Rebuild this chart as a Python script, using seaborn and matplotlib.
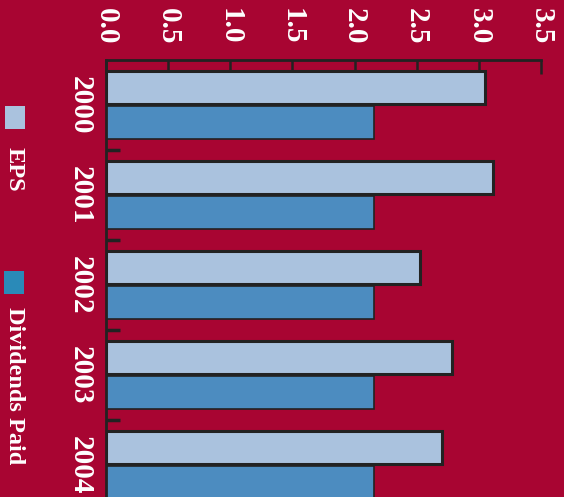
import matplotlib
matplotlib.use("Agg")
import matplotlib.pyplot as plt
import seaborn as sns
import pandas as pd
from matplotlib.patches import Rectangle

years = ["2000", "2001", "2002", "2003", "2004"]
eps = [3.05, 3.11, 2.53, 2.78, 2.70]
dividends = [2.16, 2.16, 2.16, 2.16, 2.16]
series_names = ["EPS", "Dividends Paid"]
xticks = [0.0, 0.5, 1.0, 1.5, 2.0, 2.5, 3.0, 3.5]

BG = "#A80532"
C_EPS = "#AAC2DE"
C_DIV = "#4C8CC0"
C_DIV_LEG = "#2A8AB8"
EDGE = "#222222"

sns.set_style("white")
plt.rcParams["font.family"] = ["Liberation Serif", "DejaVu Serif"]
plt.rcParams["font.weight"] = "bold"

df = pd.DataFrame({
    "year": years * 2,
    "value": eps + dividends,
    "series": [series_names[0]] * len(years) + [series_names[1]] * len(years),
})

W, H = 564, 497
fig = plt.figure(figsize=(W / 100, H / 100), dpi=100, facecolor=BG)
left, right, top, bottom = 106, 541, 60, 510
ax = fig.add_axes([left / W, (H - bottom) / H, (right - left) / W, (bottom - top) / H])
ax.set_facecolor(BG)

sns.barplot(data=df, y="year", x="value", hue="series", orient="h",
            palette=[C_EPS, C_DIV], saturation=1, width=0.78, gap=0.08,
            edgecolor=EDGE, linewidth=1.5, legend=False, ax=ax)

for p in ax.patches:
    fc = p.get_facecolor()
    if abs(fc[0] - 0xAA / 255) < 0.02:
        p.set_linewidth(2.2)
    else:
        p.set_linewidth(1.2)

ax.set_xlim(0, 3.5)
ax.set_ylim(len(years) - 0.5, -0.5)
ax.set_xticks(xticks)
ax.set_xticklabels([f"{v:.1f}" for v in xticks])
ax.xaxis.set_ticks_position("top")
ax.xaxis.set_label_position("top")
ax.tick_params(axis="x", which="major", direction="in", length=10, width=1.8,
               color=EDGE, pad=11, labelsize=21, labelcolor="white",
               labelrotation=-90, top=True, bottom=False)
for t in ax.get_xticklabels():
    t.set_fontweight("bold")

ax.set_yticks(range(len(years)))
ax.set_yticklabels(years)
ax.set_yticks([i + 0.5 for i in range(len(years) - 1)], minor=True)
ax.tick_params(axis="y", which="major", length=0, pad=9, labelsize=21,
               labelcolor="white", labelrotation=-90)
ax.tick_params(axis="y", which="minor", direction="in", length=10, width=2.5,
               color=EDGE, left=True)
for t in ax.get_yticklabels():
    t.set_fontweight("bold")
    t.set_va("center")

ax.set_xlabel("")
ax.set_ylabel("")
for s in ["right", "bottom"]:
    ax.spines[s].set_visible(False)
for s in ["top", "left"]:
    ax.spines[s].set_color(EDGE)
    ax.spines[s].set_linewidth(2)

# legend (rotated)
fig.patches.append(Rectangle((5 / W, 1 - 129 / H), 20 / W, 23 / H,
                             transform=fig.transFigure, facecolor=C_EPS, edgecolor="none"))
fig.patches.append(Rectangle((4 / W, 1 - 294 / H), 20 / W, 23 / H,
                             transform=fig.transFigure, facecolor=C_DIV_LEG, edgecolor="none"))
fig.text(14 / W, 1 - 147 / H, series_names[0], rotation=-90, ha="center", va="top",
         color="white", fontsize=17.5, fontweight="bold")
fig.text(14 / W, 1 - 307 / H, series_names[1], rotation=-90, ha="center", va="top",
         color="white", fontsize=17.5, fontweight="bold")

fig.savefig("out.png", dpi=100, facecolor=BG)
